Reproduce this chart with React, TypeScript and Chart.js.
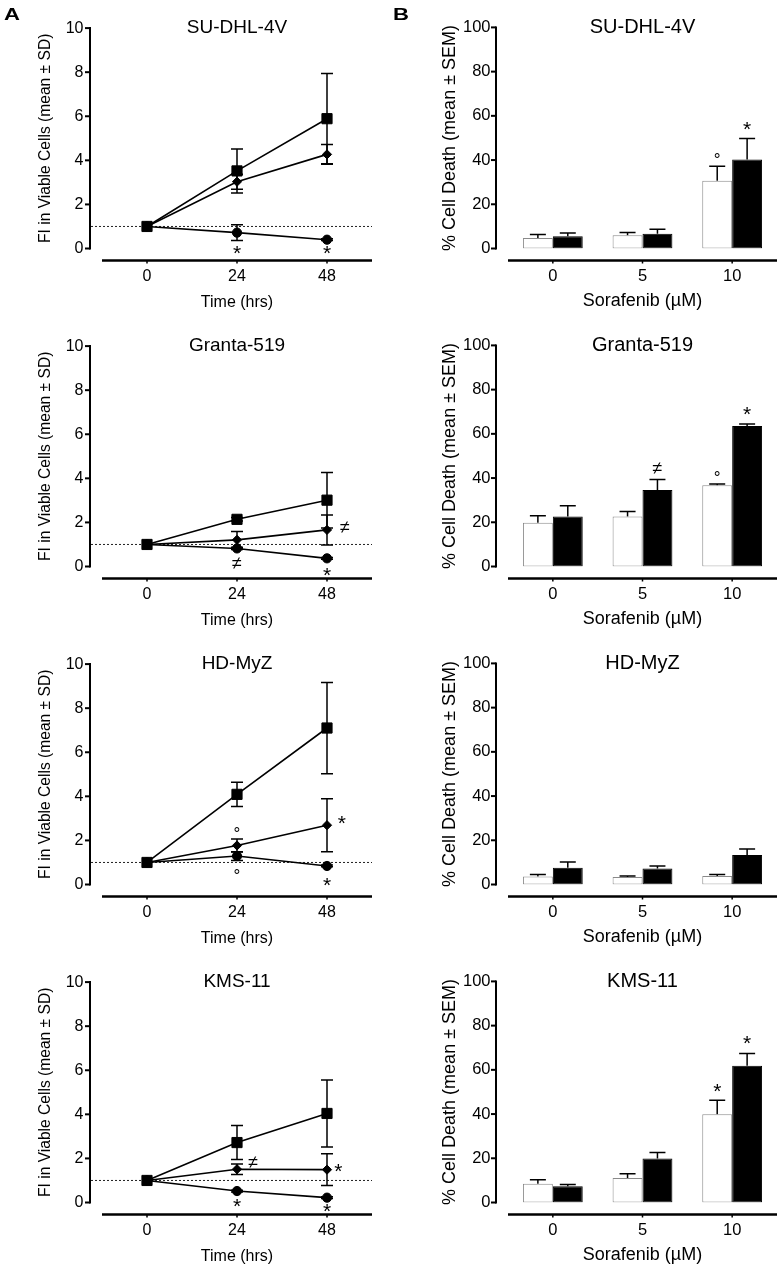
import React, { useEffect, useRef } from 'react';
import { Chart, registerables } from 'chart.js';

Chart.register(...registerables);

const FONT = 'Arial, "Liberation Sans", Helvetica, sans-serif';

// ---------------- shared axes ----------------
const timeHours = [0, 24, 48];
const timeTickValues = [0, 24, 48];
const fiTickValues = [0, 2, 4, 6, 8, 10];
const deathTickValues = [0, 20, 40, 60, 80, 100];
const sorafenibDoses = ['0', '5', '10'];

// ---------------- Panel A: FI in viable cells (mean ± SD) ----------------
const suTitle = 'SU-DHL-4V';
const suSquare = [1.0, 3.52, 5.89];
const suSquareSD = [0, 1.0, 2.05];
const suDiamond = [1.0, 3.03, 4.27];
const suDiamondSD = [0, 0.34, 0.45];
const suCircle = [1.0, 0.72, 0.4];
const suCircleSD = [0, 0.36, 0.04];
const suMarks = [
  { x: 24, y: -0.07, t: '*' },
  { x: 48, y: -0.07, t: '*' },
];

const grTitle = 'Granta-519';
const grSquare = [1.0, 2.14, 3.01];
const grSquareSD = [0, 0.08, 1.26];
const grDiamond = [1.0, 1.21, 1.66];
const grDiamondSD = [0, 0.38, 0.68];
const grCircle = [1.0, 0.82, 0.37];
const grCircleSD = [0, 0.05, 0.04];
const grMarks = [
  { x: 24, y: 0.16, t: '≠' },
  { x: 52.8, y: 1.77, t: '≠' },
  { x: 48, y: -0.25, t: '*' },
];

const hdTitle = 'HD-MyZ';
const hdSquare = [1.0, 4.09, 7.1];
const hdSquareSD = [0, 0.55, 2.07];
const hdDiamond = [1.0, 1.77, 2.69];
const hdDiamondSD = [0, 0.29, 1.2];
const hdCircle = [1.0, 1.29, 0.84];
const hdCircleSD = [0, 0.2, 0.04];
const hdMarks = [
  { x: 24, y: 2.51, t: '°' },
  { x: 24, y: 0.57, t: '°' },
  { x: 51.9, y: 2.92, t: '*' },
  { x: 48, y: 0.12, t: '*' },
];

const kmTitle = 'KMS-11';
const kmSquare = [1.0, 2.72, 4.04];
const kmSquareSD = [0, 0.77, 1.52];
const kmDiamond = [1.0, 1.51, 1.49];
const kmDiamondSD = [0, 0.24, 0.72];
const kmCircle = [1.0, 0.52, 0.22];
const kmCircleSD = [0, 0.04, 0.04];
const kmMarks = [
  { x: 28.3, y: 1.82, t: '≠' },
  { x: 51, y: 1.57, t: '*' },
  { x: 24, y: -0.04, t: '*' },
  { x: 48, y: -0.27, t: '*' },
];

// ---------------- Panel B: % cell death (mean ± SEM) ----------------
const suWhite = [4.8, 6.0, 30.6];
const suWhiteSEM = [1.5, 1.2, 6.6];
const suBlack = [5.5, 6.7, 40.2];
const suBlackSEM = [1.5, 2.0, 9.6];
const suBarMarks = [
  { cat: 2, ds: 0, y: 42.0, t: '°' },
  { cat: 2, ds: 1, y: 55.5, t: '*' },
];

const grWhite = [19.8, 22.6, 36.7];
const grWhiteSEM = [3.1, 2.3, 0.6];
const grBlack = [22.6, 34.6, 63.5];
const grBlackSEM = [4.9, 4.8, 0.9];
const grBarMarks = [
  { cat: 1, ds: 1, y: 44.6, t: '≠' },
  { cat: 2, ds: 0, y: 41.9, t: '°' },
  { cat: 2, ds: 1, y: 70.4, t: '*' },
];

const hdWhite = [3.6, 3.4, 3.9];
const hdWhiteSEM = [0.9, 0.5, 0.6];
const hdBlack = [7.6, 7.2, 13.3];
const hdBlackSEM = [2.6, 1.2, 2.7];
const hdBarMarks: any[] = [];

const kmWhite = [8.5, 11.1, 39.9];
const kmWhiteSEM = [1.8, 1.9, 6.4];
const kmBlack = [7.3, 19.9, 61.9];
const kmBlackSEM = [0.8, 2.7, 5.5];
const kmBarMarks = [
  { cat: 2, ds: 0, y: 51.9, t: '*' },
  { cat: 2, ds: 1, y: 73.5, t: '*' },
];

const linePanels = [
  { title: suTitle, sq: suSquare, sqE: suSquareSD, di: suDiamond, diE: suDiamondSD, ci: suCircle, ciE: suCircleSD, marks: suMarks },
  { title: grTitle, sq: grSquare, sqE: grSquareSD, di: grDiamond, diE: grDiamondSD, ci: grCircle, ciE: grCircleSD, marks: grMarks },
  { title: hdTitle, sq: hdSquare, sqE: hdSquareSD, di: hdDiamond, diE: hdDiamondSD, ci: hdCircle, ciE: hdCircleSD, marks: hdMarks },
  { title: kmTitle, sq: kmSquare, sqE: kmSquareSD, di: kmDiamond, diE: kmDiamondSD, ci: kmCircle, ciE: kmCircleSD, marks: kmMarks },
];

const barPanels = [
  { title: suTitle, w: suWhite, wE: suWhiteSEM, b: suBlack, bE: suBlackSEM, marks: suBarMarks },
  { title: grTitle, w: grWhite, wE: grWhiteSEM, b: grBlack, bE: grBlackSEM, marks: grBarMarks },
  { title: hdTitle, w: hdWhite, wE: hdWhiteSEM, b: hdBlack, bE: hdBlackSEM, marks: hdBarMarks },
  { title: kmTitle, w: kmWhite, wE: kmWhiteSEM, b: kmBlack, bE: kmBlackSEM, marks: kmBarMarks },
];

// ---------------- plugin: GraphPad-style axes, error bars, titles, marks ----------------
const valOf = (d: any) => (typeof d === 'number' ? d : d.y);

const gpPlugin: any = {
  id: 'gp',
  beforeDatasetsDraw(chart: any, _args: any, opts: any) {
    const { ctx, chartArea: ca, scales } = chart;
    const xs = scales.x;
    const ys = scales.y;
    ctx.save();
    ctx.strokeStyle = '#000';
    ctx.lineCap = 'butt';
    // y axis (offset left)
    const axX = ca.left - 12;
    ctx.lineWidth = 2;
    ctx.beginPath();
    ctx.moveTo(axX, ys.getPixelForValue(ys.max) - 1);
    ctx.lineTo(axX, ys.getPixelForValue(0) + 1);
    ctx.stroke();
    ys.ticks.forEach((t: any) => {
      const py = ys.getPixelForValue(t.value);
      ctx.beginPath();
      ctx.moveTo(axX - 5, py);
      ctx.lineTo(axX, py);
      ctx.stroke();
    });
    // x axis (offset below)
    const axY = ca.bottom + 12;
    ctx.lineWidth = 2.5;
    ctx.beginPath();
    ctx.moveTo(ca.left, axY);
    ctx.lineTo(ca.right, axY);
    ctx.stroke();
    ctx.lineWidth = 1.5;
    xs.ticks.forEach((_t: any, i: number) => {
      const px = xs.getPixelForTick(i);
      ctx.beginPath();
      ctx.moveTo(px, axY);
      ctx.lineTo(px, axY + 3);
      ctx.stroke();
    });
    // reference line
    if (opts.refLine != null) {
      const py = ys.getPixelForValue(opts.refLine);
      ctx.save();
      ctx.lineWidth = 1;
      ctx.strokeStyle = '#222';
      ctx.setLineDash([2, 2]);
      ctx.beginPath();
      ctx.moveTo(axX + 1, py);
      ctx.lineTo(ca.right, py);
      ctx.stroke();
      ctx.restore();
    }
    // error bars
    ctx.lineWidth = 1.5;
    chart.data.datasets.forEach((ds: any, di: number) => {
      const meta = chart.getDatasetMeta(di);
      const errs = opts.errors[di];
      meta.data.forEach((el: any, i: number) => {
        const e = errs[i];
        if (!e) return;
        const v = valOf(ds.data[i]);
        const x = el.x;
        const top = ys.getPixelForValue(v + e);
        const base = ys.getPixelForValue(v);
        const bot = opts.both ? ys.getPixelForValue(v - e) : base;
        const cap = opts.cap;
        ctx.beginPath();
        ctx.moveTo(x, bot);
        ctx.lineTo(x, top);
        ctx.moveTo(x - cap, top);
        ctx.lineTo(x + cap, top);
        if (opts.both) {
          ctx.moveTo(x - cap, bot);
          ctx.lineTo(x + cap, bot);
        }
        ctx.stroke();
      });
    });
    ctx.restore();
  },
  afterDraw(chart: any, _args: any, opts: any) {
    const { ctx, chartArea: ca, scales } = chart;
    const xs = scales.x;
    const ys = scales.y;
    ctx.save();
    ctx.fillStyle = '#000';
    // panel title
    ctx.font = `${opts.titleSize}px ${FONT}`;
    ctx.textAlign = 'center';
    ctx.textBaseline = 'middle';
    ctx.fillText(opts.title, (ca.left + ca.right) / 2, ca.top);
    // significance marks (ink-centred on their data position)
    ctx.textBaseline = 'alphabetic';
    (opts.marks || []).forEach((m: any) => {
      const size = m.t === '°' ? 17 : m.t === '≠' ? 18 : 21;
      ctx.font = `${size}px ${FONT}`;
      const px = opts.bar ? chart.getDatasetMeta(m.ds).data[m.cat].x : xs.getPixelForValue(m.x);
      const py = ys.getPixelForValue(m.y);
      const mt = ctx.measureText(m.t);
      const by = py + (mt.actualBoundingBoxAscent - mt.actualBoundingBoxDescent) / 2;
      const bx = px - (mt.actualBoundingBoxRight - mt.actualBoundingBoxLeft) / 2;
      ctx.fillText(m.t, bx, by);
    });
    ctx.restore();
  },
};

// ---------------- chart configs ----------------
const CANVAS_W = 391;
const CANVAS_H = 318;

function baseScales(leftWidth: number, tickSize: number, tickPadY: number, tickPadX: number, yTitle: string, yTitleSize: number, yTitlePad: number, xTitle: string, xTitleSize: number, xTitlePad: number) {
  return {
    x: {
      grid: { display: false, drawTicks: false, tickLength: 0 },
      border: { display: false },
      ticks: { font: { family: FONT, size: tickSize }, color: '#000', padding: tickPadX, maxRotation: 0, autoSkip: false },
      title: { display: true, text: xTitle, color: '#000', font: { family: FONT, size: xTitleSize }, padding: { top: 0, bottom: xTitlePad } },
      afterFit: (s: any) => { s.height = 69.5; },
    },
    y: {
      grid: { display: false, drawTicks: false, tickLength: 0 },
      border: { display: false },
      ticks: { font: { family: FONT, size: tickSize }, color: '#000', padding: tickPadY },
      title: { display: true, text: yTitle, color: '#000', font: { family: FONT, size: yTitleSize }, padding: { top: yTitlePad, bottom: 0 } },
      afterFit: (s: any) => { s.width = leftWidth; },
    },
  };
}

function lineConfig(p: any): any {
  const mk = (label: string, vals: number[], style: string, radius: number) => ({
    label,
    data: timeHours.map((h, i) => ({ x: h, y: vals[i] })),
    borderColor: '#000',
    backgroundColor: '#000',
    borderWidth: 1.6,
    pointStyle: style,
    pointRadius: radius,
    pointBorderWidth: 1,
    pointBackgroundColor: '#000',
    pointBorderColor: '#000',
    tension: 0,
    clip: false,
  });
  const scales: any = baseScales(102, 16, 18.5, 18.4, 'FI in Viable Cells (mean ± SD)', 15.6, 36.4, 'Time (hrs)', 16, 5.9);
  scales.x.type = 'linear';
  scales.x.min = -12;
  scales.x.max = 60;
  scales.x.afterBuildTicks = (s: any) => { s.ticks = timeTickValues.map((v) => ({ value: v })); };
  scales.y.min = 0;
  scales.y.max = 10;
  scales.y.afterBuildTicks = (s: any) => { s.ticks = fiTickValues.map((v) => ({ value: v })); };
  return {
    type: 'line',
    data: {
      datasets: [
        mk('Square series', p.sq, 'rect', 7.2),
        mk('Diamond series', p.di, 'rectRot', 4.6),
        mk('Circle series', p.ci, 'circle', 4.6),
      ],
    },
    options: {
      responsive: false,
      animation: false,
      events: [],
      layout: { padding: { left: 0, right: 19, top: 26, bottom: 0 } },
      plugins: {
        legend: { display: false },
        tooltip: { enabled: false },
        gp: { title: p.title, titleSize: 19, errors: [p.sqE, p.diE, p.ciE], both: true, cap: 6, refLine: 1, marks: p.marks, bar: false },
      },
      scales,
    },
    plugins: [gpPlugin],
  };
}

function barConfig(p: any): any {
  const scales: any = baseScales(117, 16.5, 17.5, 18.1, '% Cell Death (mean ± SEM)', 18, 48.7, 'Sorafenib (µM)', 18, 5.7);
  scales.x.type = 'category';
  scales.x.offset = true;
  scales.y.min = 0;
  scales.y.max = 100;
  scales.y.afterBuildTicks = (s: any) => { s.ticks = deathTickValues.map((v) => ({ value: v })); };
  return {
    type: 'bar',
    data: {
      labels: sorafenibDoses,
      datasets: [
        { label: 'Open bars', data: p.w, backgroundColor: '#fff', borderColor: '#8a8a8a', borderWidth: 1, borderSkipped: false, categoryPercentage: 0.667, barPercentage: 1 },
        { label: 'Filled bars', data: p.b, backgroundColor: '#000', borderColor: '#000', borderWidth: 1, borderSkipped: false, categoryPercentage: 0.667, barPercentage: 1 },
      ],
    },
    options: {
      responsive: false,
      animation: false,
      events: [],
      layout: { padding: { left: 0, right: 5, top: 26, bottom: 0 } },
      plugins: {
        legend: { display: false },
        tooltip: { enabled: false },
        gp: { title: p.title, titleSize: 20, errors: [p.wE, p.bE], both: false, cap: 8, refLine: null, marks: p.marks, bar: true },
      },
      scales,
    },
    plugins: [gpPlugin],
  };
}

function Panel({ make, left, top }: { make: () => any; left: number; top: number }) {
  const ref = useRef<HTMLCanvasElement>(null);
  useEffect(() => {
    const chart = new Chart(ref.current as HTMLCanvasElement, make());
    return () => chart.destroy();
  }, []);
  return (
    <canvas
      ref={ref}
      width={CANVAS_W}
      height={CANVAS_H}
      style={{ position: 'absolute', left, top, width: CANVAS_W, height: CANVAS_H }}
    />
  );
}

const letterStyle: React.CSSProperties = {
  position: 'absolute',
  top: 6,
  fontFamily: FONT,
  fontWeight: 'bold',
  fontSize: 17,
  lineHeight: 1,
  transform: 'scaleX(1.3)',
  transformOrigin: 'left top',
  color: '#000',
};

export default function App() {
  return (
    <div style={{ position: 'absolute', left: 0, top: 0, width: 782, height: 1272, background: '#fff', overflow: 'hidden' }}>
      {linePanels.map((p, i) => (
        <Panel key={'a' + i} make={() => lineConfig(p)} left={0} top={i * 318} />
      ))}
      {barPanels.map((p, i) => (
        <Panel key={'b' + i} make={() => barConfig(p)} left={391} top={i * 318} />
      ))}
      <div style={{ ...letterStyle, left: 4 }}>A</div>
      <div style={{ ...letterStyle, left: 393 }}>B</div>
    </div>
  );
}
